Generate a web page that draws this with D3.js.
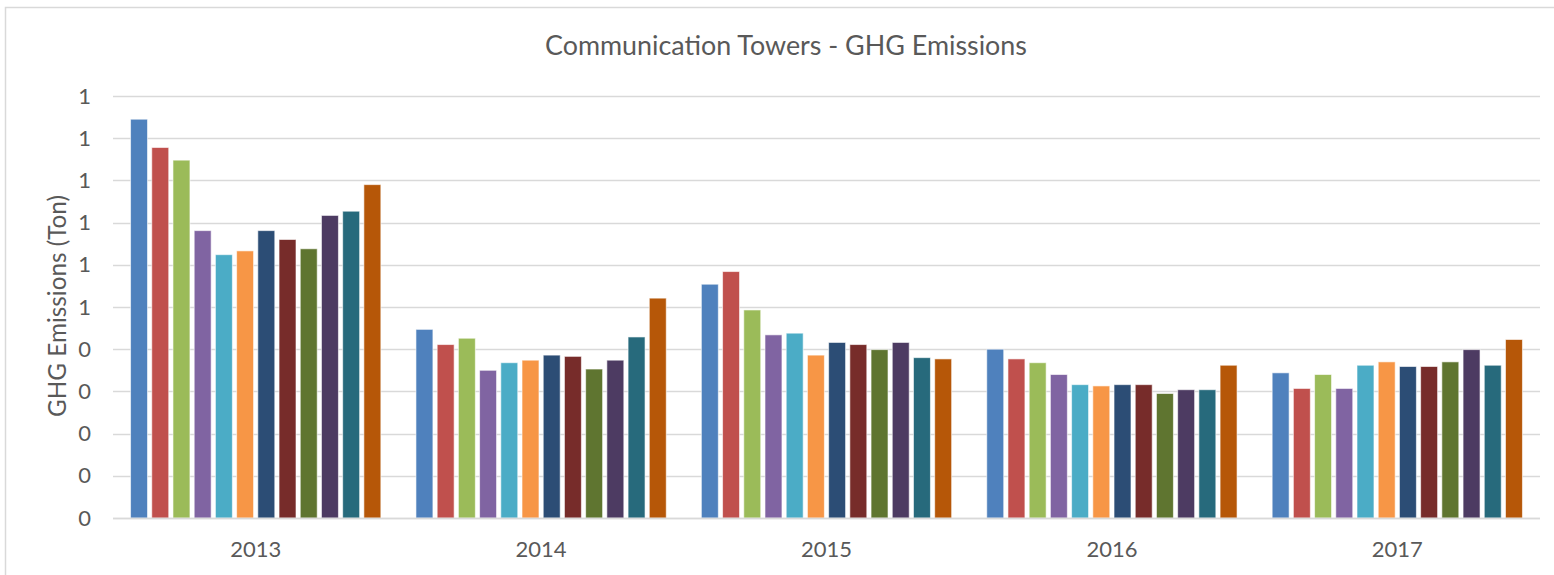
<!DOCTYPE html>
<html>
<head>
<meta charset="utf-8">
<script src="https://cdn.jsdelivr.net/npm/d3@7"></script>
<style>
  html, body { margin: 0; padding: 0; background: #fff; }
  svg { display: block; font-family: Lato, "Open Sans", "Liberation Sans", sans-serif; }
</style>
</head>
<body>
<svg id="chart" width="1554" height="575"></svg>
<script>
const years = ["2013", "2014", "2015", "2016", "2017"];
const seriesNames = ["S1","S2","S3","S4","S5","S6","S7","S8","S9","S10","S11","S12"];
const colors = ["#4F81BD","#C0504D","#9BBB59","#8064A2","#4BACC6","#F79646","#2C4D75","#772C2A","#5F7530","#4D3B62","#276A7C","#B65708"];
const v2013 = [0.945, 0.878, 0.848, 0.681, 0.624, 0.633, 0.681, 0.660, 0.638, 0.717, 0.727, 0.790];
const v2014 = [0.447, 0.411, 0.426, 0.350, 0.368, 0.374, 0.386, 0.383, 0.353, 0.374, 0.429, 0.521];
const v2015 = [0.554, 0.584, 0.493, 0.434, 0.438, 0.386, 0.416, 0.411, 0.399, 0.416, 0.380, 0.377];
const v2016 = [0.400, 0.377, 0.368, 0.340, 0.316, 0.313, 0.316, 0.316, 0.295, 0.304, 0.304, 0.362];
const v2017 = [0.344, 0.307, 0.340, 0.307, 0.362, 0.370, 0.359, 0.359, 0.370, 0.399, 0.362, 0.423];
const yTicks = [0, 0.1, 0.2, 0.3, 0.4, 0.5, 0.6, 0.7, 0.8, 0.9, 1.0];
const titleText = "Communication Towers - GHG Emissions";
const yLabelText = "GHG Emissions (Ton)";

const values = [v2013, v2014, v2015, v2016, v2017];
const data = years.map((yr, i) => ({ year: yr, vals: values[i] }));

const svg = d3.select("#chart");
const plotLeft = 113, plotRight = 1540, plotTop = 96, plotBottom = 518;
const textColor = "#595959";

// chart border
svg.append("rect").attr("x", 5.5).attr("y", 7.5).attr("width", 1560).attr("height", 580)
  .attr("fill", "#fff").attr("stroke", "#d9d9d9").attr("stroke-width", 1.5);

const x0 = d3.scaleBand().domain(years).range([plotLeft, plotRight]).paddingInner(0.123).paddingOuter(0.0615);
const x1 = d3.scaleBand().domain(seriesNames).range([0, x0.bandwidth()]).paddingInner(0.2);
const y = d3.scaleLinear().domain([0, 1]).range([plotBottom, plotTop]);

// gridlines
svg.append("g").selectAll("line").data(yTicks).join("line")
  .attr("x1", plotLeft).attr("x2", plotRight)
  .attr("y1", d => Math.round(y(d)) + 0.5).attr("y2", d => Math.round(y(d)) + 0.5)
  .attr("stroke", "#d9d9d9").attr("stroke-width", 1.3);

// y axis labels
const yAxis = d3.axisLeft(y).tickValues(yTicks).tickSize(0).tickPadding(0)
  .tickFormat(d => String(Math.round(d + 1e-9)));
const gy = svg.append("g").attr("transform", `translate(${91},0)`).call(yAxis);
gy.select(".domain").remove();
gy.selectAll("text").attr("fill", textColor).style("font-size", "22px")
  .style("font-family", "Lato, sans-serif");

// bars
const groups = svg.append("g").selectAll("g").data(data).join("g")
  .attr("transform", d => `translate(${x0(d.year)},0)`);
groups.selectAll("rect").data(d => d.vals.map((v, i) => ({ v, i }))).join("rect")
  .attr("x", d => x1(seriesNames[d.i]))
  .attr("width", x1.bandwidth())
  .attr("y", d => y(d.v))
  .attr("height", d => y(0) - y(d.v))
  .attr("fill", d => colors[d.i])
  .attr("stroke", "#ffffff").attr("stroke-opacity", 0.6).attr("stroke-width", 1);

// x axis
const xAxis = d3.axisBottom(x0).tickSize(0).tickPadding(0);
const gx = svg.append("g").attr("transform", `translate(0,${plotBottom})`).call(xAxis);
gx.select(".domain").attr("stroke", "#d9d9d9").attr("stroke-width", 1.3).attr("d", `M${plotLeft},0.5H${plotRight}`);
gx.selectAll("text").attr("fill", textColor).style("font-size", "22px")
  .style("font-family", "Lato, sans-serif").attr("dy", null).attr("y", 39);

// fit helper
function fitWidth(sel, target) {
  const w = sel.node().getComputedTextLength();
  const fs = parseFloat(sel.style("font-size"));
  if (w > 0) sel.style("font-size", (fs * target / w).toFixed(2) + "px");
}

// title
const title = svg.append("text").attr("x", 786).attr("y", 55).attr("text-anchor", "middle")
  .attr("fill", textColor).style("font-size", "26px").text(titleText);
fitWidth(title, 482);

// y label
const yl = svg.append("text").attr("transform", `translate(66,${306}) rotate(-90)`)
  .attr("text-anchor", "middle").attr("fill", textColor).style("font-size", "24px").text(yLabelText);
fitWidth(yl, 222);
</script>
</body>
</html>
